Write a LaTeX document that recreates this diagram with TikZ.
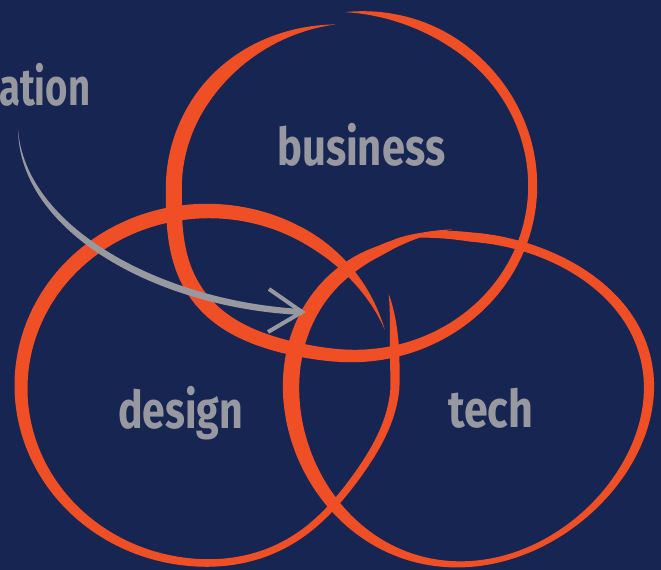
\documentclass[tikz,border=0pt]{standalone}
\usepackage{fontspec}
\setmainfont{Fira Sans}
\usepackage{graphicx}
\usetikzlibrary{calc}
\definecolor{bg}{RGB}{23,37,82}
\definecolor{brush}{RGB}{240,79,38}
\definecolor{txt}{RGB}{152,152,160}
\begin{document}
\begin{tikzpicture}[x=1pt,y=-1pt,
  lbl/.style={text=txt, font=\fontsize{52}{60}\selectfont\bfseries, inner sep=0pt, anchor=base west},
  brushfill/.style={fill=brush},
  declare function={
    fb(\a)=max(0,-sin(2*\a))*max(0,-sin(2*\a))*max(0,-cos(\a));
    bxb(\a)=184-0.025*(\a-268)+18*fb(\a);
    byb(\a)=175-0.033*(\a-268)+18*fb(\a);
    wb(\a)=(12.5+3.5*cos(\a-540))*sin(90*max(0,min(1,(\a-268)/40,(625-\a)/55)));
    ud(\a)=max(0,(360-\a)/32);
    fd(\a)=max(0,sin(2*\a))*max(0,cos(\a));
    bxd(\a)=187+26*ud(\a)*ud(\a)-10*fd(\a)*fd(\a)-6*fd(\a);
    byd(\a)=176-10*fd(\a)*fd(\a)-6*fd(\a);
    wd(\a)=(11+4*cos(\a-600))*sin(90*max(0,min(1,(\a-328)/25,(701-\a)/40)));
    byt(\a)=163.5+13.5*sin(\a);
    eyt(\a)=-6*sin(2*\a)-7*max(0,(\a-600)/24)-6*max(0,1-(\a-245)/25);
    wt(\a)=(10.5+1.84*cos(\a-270)-3.09*sin(\a-270)-2.75*cos(2*\a-540))*sin(90*max(0,min(1,(\a-245)/30,(624.5-\a)/40)));
  }]
\useasboundingbox (0,0) rectangle (661,570);
\fill[bg] (0,0) rectangle (661,570);
\clip (0,0) rectangle (661,570);

% business circle
\fill[brushfill] plot[domain=268:625,samples=300,variable=\t]
  ({351+(bxb(\t)+wb(\t)/2)*cos(\t)},{187+(byb(\t)+wb(\t)/2)*sin(\t)})
  -- plot[domain=625:268,samples=300,variable=\t]
  ({351+(bxb(\t)-wb(\t)/2)*cos(\t)},{187+(byb(\t)-wb(\t)/2)*sin(\t)}) -- cycle;

% design circle
\fill[brushfill] plot[domain=328:701,samples=300,variable=\t]
  ({208+(bxd(\t)+wd(\t)/2)*cos(\t)},{387+(byd(\t)+wd(\t)/2)*sin(\t)})
  -- plot[domain=701:328,samples=300,variable=\t]
  ({208+(bxd(\t)-wd(\t)/2)*cos(\t)},{387+(byd(\t)-wd(\t)/2)*sin(\t)}) -- cycle;

% tech circle
\fill[brushfill] plot[domain=245:624.5,samples=300,variable=\t]
  ({470+(179+wt(\t)/2)*cos(\t)},{387+(byt(\t)+wt(\t)/2)*sin(\t)+eyt(\t)})
  -- plot[domain=624.5:245,samples=300,variable=\t]
  ({470+(179-wt(\t)/2)*cos(\t)},{387+(byt(\t)-wt(\t)/2)*sin(\t)+eyt(\t)}) -- cycle;

% labels
\node[lbl] (ation) at (-1,105) {\resizebox{91pt}{\height}{ation}};
\node[lbl] (business) at (277,165) {\resizebox{168pt}{\height}{business}};
\node[lbl] (design) at (118,428) {\resizebox{125pt}{\height}{design}};
\node[lbl] (tech) at (448,427) {\resizebox{85pt}{\height}{tech}};

% arrow
\coordinate (astart) at (18,129);
\coordinate (aend) at (302,312);
\fill[txt] (astart) .. controls (19,232) and (157,308.5) .. ($(aend)+(0,3)$)
  -- ($(aend)+(0,-3)$) .. controls (163,301.5) and (25,228) .. (astart) -- cycle;
\draw[txt, line width=4pt, line join=miter] ($(aend)+(-33,-23)$) -- (aend) -- ($(aend)+(-34,20)$);
\end{tikzpicture}
\end{document}
